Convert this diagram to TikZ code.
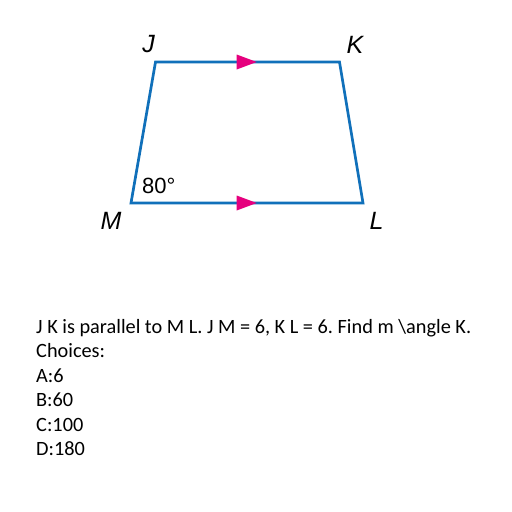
\documentclass[tikz,border=0pt]{standalone}
\usepackage{fontspec}
\usetikzlibrary{calc}
\setmainfont{Carlito}
\newfontfamily\labelfont{Liberation Sans}
\definecolor{edgeblue}{RGB}{16,112,186}
\definecolor{tickmag}{RGB}{230,0,126}
\frenchspacing
\begin{document}
\begin{tikzpicture}[x=1pt,y=-1pt,
  edge/.style={draw=edgeblue,line width=2.7pt,line cap=butt,line join=miter},
  vlabel/.style={font=\labelfont\itshape\fontsize{25}{28}\selectfont,inner sep=0pt},
  anglabel/.style={font=\labelfont\fontsize{22}{26}\selectfont,inner sep=0pt,anchor=base west},
  qline/.style={font=\fontsize{20.3}{24}\selectfont,inner sep=0pt,anchor=base west}]
\useasboundingbox[fill=white] (0,0) rectangle (512,512);
\coordinate (J) at (155.5,62);
\coordinate (K) at (339.5,62);
\coordinate (L) at (363,203);
\coordinate (M) at (131,203);
\draw[edge] (M) -- (J) -- (K) -- (L) -- cycle;
\coordinate (t1) at (246.7,62);
\coordinate (t2) at (246.7,203);
\fill[tickmag] ($(t1)+(-10,-7.5)$) -- ($(t1)+(10,0)$) -- ($(t1)+(-10,7.5)$) -- cycle;
\fill[tickmag] ($(t2)+(-10,-7.5)$) -- ($(t2)+(10,0)$) -- ($(t2)+(-10,7.5)$) -- cycle;
\node[vlabel] (lJ) at (148.5,44.5) {J};
\node[vlabel] (lK) at (355,44.5) {K};
\node[vlabel] (lM) at (111,221) {M};
\node[vlabel] (lL) at (376.5,221) {L};
\node[anglabel] (ang) at (142,193) {80°};
\node[qline] (q1) at (36,333) {J K is parallel to M L. J M = 6, K L = 6. Find m \textbackslash angle K.};
\node[qline] (q2) at (36,357.5) {Choices:};
\node[qline] (q3) at (36,382) {A:6};
\node[qline] (q4) at (36,406.5) {B:60};
\node[qline] (q5) at (36,431) {C:100};
\node[qline] (q6) at (36,455.5) {D:180};
\end{tikzpicture}
\end{document}
